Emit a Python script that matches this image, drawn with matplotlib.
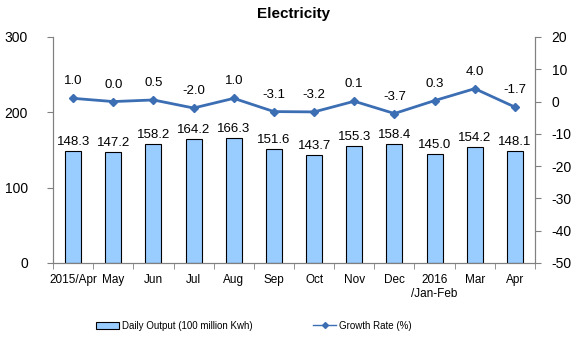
import matplotlib
matplotlib.use("Agg")
import matplotlib.pyplot as plt
import numpy as np
from matplotlib.lines import Line2D
from matplotlib.patches import Patch

plt.rcParams['font.family'] = ['Liberation Sans', 'DejaVu Sans']
plt.rcParams['axes.unicode_minus'] = False

categories = ["2015/Apr", "May", "Jun", "Jul", "Aug", "Sep", "Oct", "Nov", "Dec", "2016\n/Jan-Feb", "Mar", "Apr"]
daily_output = [148.3, 147.2, 158.2, 164.2, 166.3, 151.6, 143.7, 155.3, 158.4, 145.0, 154.2, 148.1]
growth_rate = [1.0, 0.0, 0.5, -2.0, 1.0, -3.1, -3.2, 0.1, -3.7, 0.3, 4.0, -1.7]

fig = plt.figure(figsize=(5.76, 3.4), dpi=100)
ax = fig.add_axes([53/576, 77/340, (535-53)/576, (263-37)/340])
x = np.arange(len(categories))

ax.bar(x, daily_output, width=0.4, color='#99CCFF', edgecolor='black', linewidth=0.8,
       label='Daily Output (100 million Kwh)', zorder=2)
ax.set_ylim(0, 300)
ax.set_xlim(-0.5, len(categories) - 0.5)
ax.set_yticks([0, 100, 200, 300])
ax.tick_params(axis='y', labelsize=10, length=4, direction='out', pad=14)
ax.set_xticks(x)
ax.set_xticklabels(categories, fontsize=8.5)
ax.tick_params(axis='x', length=0, pad=8)
ax.set_xticks(np.arange(-0.5, len(categories)), minor=True)
ax.tick_params(axis='x', which='minor', length=4, direction='out')
ax.spines['top'].set_visible(False)
for s in ['left', 'right', 'bottom']:
    ax.spines[s].set_color('#808080')
    ax.spines[s].set_linewidth(0.8)
ax.tick_params(colors='#808080', which='both', labelcolor='black')

for xi, v in zip(x, daily_output):
    ax.text(xi, v + 4, f"{v:.1f}", ha='center', va='bottom', fontsize=9.5)

ax2 = ax.twinx()
ax2.plot(x, growth_rate, color='#3C6EB4', linewidth=2, marker='D', markersize=4,
         label='Growth Rate (%)', zorder=3)
ax2.set_ylim(-50, 20)
ax2.set_yticks(np.arange(-50, 21, 10))
ax2.tick_params(axis='y', labelsize=10, length=4, direction='out', pad=8, colors='#808080', labelcolor='black')
ax2.spines['top'].set_visible(False)
for s in ['left', 'right', 'bottom']:
    ax2.spines[s].set_color('#808080')
    ax2.spines[s].set_linewidth(0.8)

for xi, v in zip(x, growth_rate):
    ax2.text(xi, v + 3.4, f"{v:.1f}", ha='center', va='bottom', fontsize=9.5)

fig.text(294/576, 1 - 14/340, 'Electricity', ha='center', va='center', fontsize=11, fontweight='bold')

h1 = Patch(facecolor='#99CCFF', edgecolor='black', linewidth=0.8)
h2 = Line2D([0], [0], color='#3C6EB4', linewidth=1, marker='D', markersize=3)
fig.legend([h1, h2], ['Daily Output (100 million Kwh)', 'Growth Rate (%)'],
           loc='center', bbox_to_anchor=(254/576, 1 - 326/340), ncol=2, frameon=False,
           fontsize=7, columnspacing=6.2, handlelength=2.4, handleheight=0.8, handletextpad=0.3)

fig.savefig('out.png', dpi=100)
